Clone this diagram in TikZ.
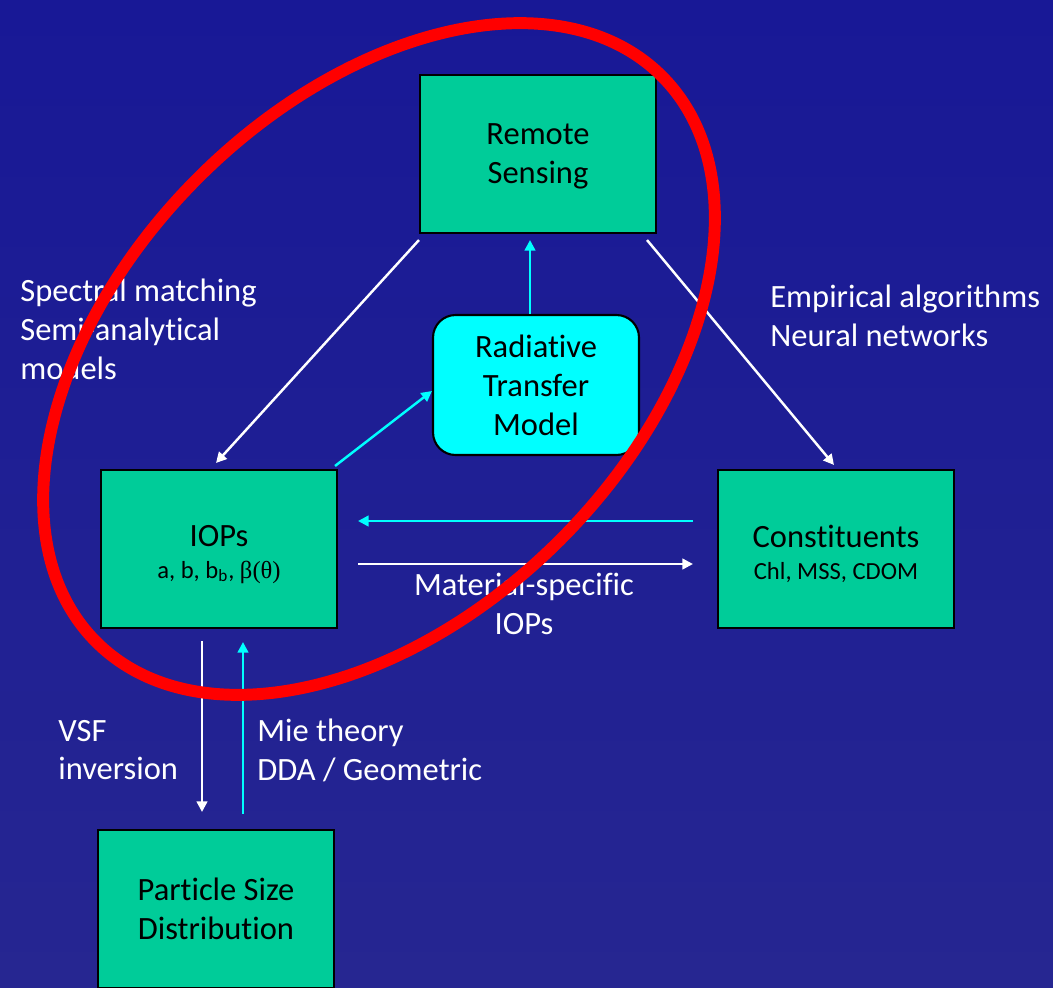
\documentclass[tikz,border=0pt]{standalone}
\usepackage{fontspec}
\setmainfont[Ligatures={NoCommon,NoContextual,NoRequired}]{Carlito}
\newfontfamily\grkfont{Liberation Serif}
\usetikzlibrary{arrows.meta, calc}

\definecolor{bgtop}{RGB}{24,24,150}
\definecolor{bgmid}{RGB}{51,51,204}
\definecolor{bgbot}{RGB}{38,38,145}
\definecolor{boxgreen}{RGB}{0,204,153}
\definecolor{rtcyan}{RGB}{0,255,255}

\newcommand{\bigfont}{\fontsize{18.5}{22.1}\selectfont}
\newcommand{\subfont}{\fontsize{14}{17}\selectfont}

\tikzset{
  box/.style={draw=black, line width=1.2pt, fill=boxgreen, align=center,
              minimum width=4.72cm, minimum height=3.16cm, font=\bigfont},
  rtmbox/.style={draw=black, line width=1.2pt, fill=rtcyan, align=center,
              rounded corners=0.45cm, minimum width=4.12cm, minimum height=2.8cm,
              font=\bigfont},
  lbl/.style={text=white, inner sep=0pt, anchor=west, align=left, font=\bigfont},
  warrow/.style={->, draw=white, line width=1.4pt},
  carrow/.style={->, draw=rtcyan, line width=1.4pt}
}

\begin{document}
\begin{tikzpicture}[x=0.02cm, y=-0.02cm, >={Triangle[length=6pt,width=6pt]}]
\shade[top color=bgtop, middle color=bgmid, bottom color=bgbot] (0,0) rectangle (1053,987);
\useasboundingbox (0,0) rectangle (1053,987);
\clip (0,0) rectangle (1053,987);

% boxes
\node[box] (rs) at (538,154) {\rule{0pt}{15pt}Remote\\Sensing};
\node[rtmbox] (rtm) at (536,385) {Radiative\\Transfer\\Model};
\node[box] (iops) at (219,549) {\rule{0pt}{18pt}IOPs\\[-4pt]{\subfont a, b, b\textsubscript{b}, {\grkfont β(θ)}}};
\node[box] (cons) at (836,549) {\rule{0pt}{18pt}Constituents\\[-4pt]{\subfont Chl, MSS, CDOM}};
\node[box] (psd) at (216,909) {Particle Size\\Distribution};

% labels
\node[lbl] (specl) at (20,329) {Spectral matching\\Semi-analytical\\models};
\node[lbl] (empl) at (770,316) {Empirical algorithms\\Neural networks};
\node[lbl, anchor=center, align=center] (matl) at (524,604) {Material-specific\\IOPs};
\node[lbl] (vsfl) at (58,750) {VSF\\inversion};
\node[lbl] (miel) at (257,750) {Mie theory\\DDA / Geometric};

% connectors
\draw[warrow] ($(rs.south west)+(0,6)$) -- ($(iops.north)+(-3,-6)$);
\draw[warrow] ($(rs.south east)+(-10,6)$) -- ($(cons.north)+(-2,-4)$);
\draw[carrow] ($(rtm.north)+(-6,0)$) -- ($(rs.south)+(-8,6)$);
\draw[carrow] ($(iops.north east)+(-3,-3)$) -- ($(rtm.west)+(0,6)$);
\draw[carrow] ($(cons.west)+(-24,-28)$) -- ($(iops.east)+(20,-28)$);
\draw[warrow] ($(iops.east)+(20,15)$) -- ($(cons.west)+(-24,15)$);
\draw[warrow] ($(iops.south)+(-17,12)$) -- ($(psd.north)+(-14,-17)$);
\draw[carrow] ($(psd.north)+(27,-15)$) -- ($(iops.south)+(24,13)$);

% highlight
\draw[red, line width=6.8pt, rotate around={45:(379,359)}] (379,359) ellipse [x radius=400, y radius=256];
\end{tikzpicture}
\end{document}
